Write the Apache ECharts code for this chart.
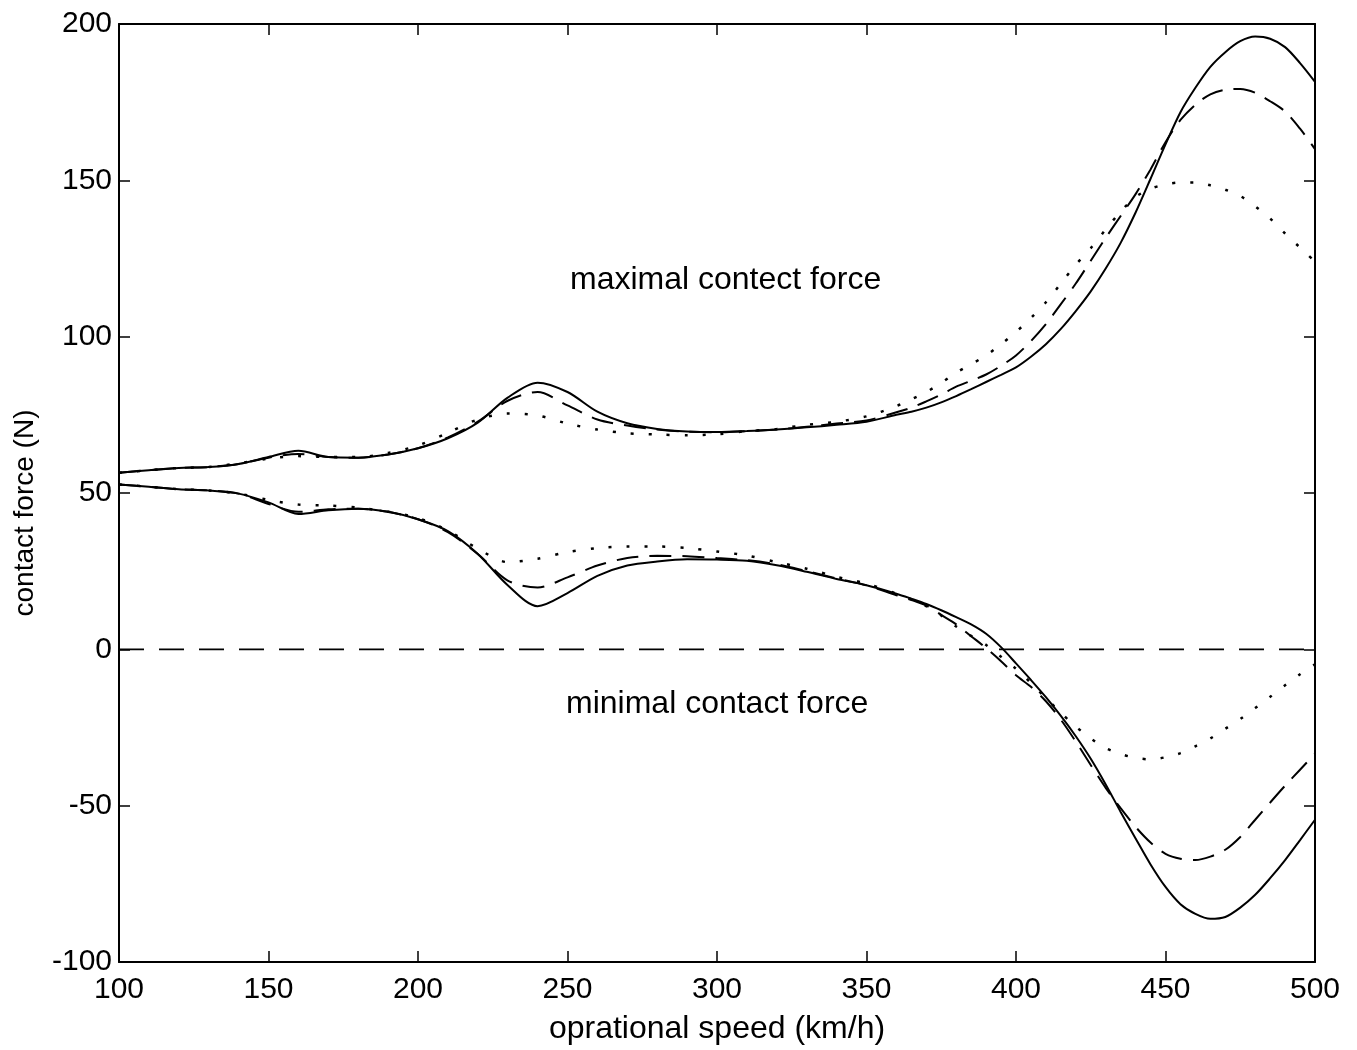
<!DOCTYPE html>
<html>
<head>
<meta charset="utf-8">
<script src="https://cdn.jsdelivr.net/npm/echarts@6/dist/echarts.min.js"></script>
<style>
html,body{margin:0;padding:0;background:#fff;}
#chart{width:1357px;height:1050px;}
</style>
</head>
<body>
<div id="chart"></div>
<script>
// ---- data ----
const speed = [100,110,120,130,140,150,160,170,180,190,200,210,220,230,240,250,260,270,280,290,300,310,320,330,340,350,
               360,365,370,375,380,385,390,395,400,405,410,415,420,425,430,435,440,445,450,455,460,465,470,475,480,485,490,495,500];

const maxSolid = [56.5,57.3,58.0,58.3,59.3,61.5,63.5,61.5,61.3,62.3,64.3,67.5,72.5,80.5,85.3,82.3,76.0,72.3,70.5,69.7,69.5,69.8,70.3,71.0,71.8,72.8,
                  75.0,76.0,77.3,79.0,81.0,83.2,85.5,87.8,90.2,93.6,97.6,102.5,108.2,114.5,121.8,130.0,139.7,150.5,161.5,171.8,179.6,186.3,191.0,194.5,196.0,195.3,192.6,187.5,181.5];
const maxDash  = [56.5,57.3,58.0,58.3,59.3,61.3,62.5,61.5,61.3,62.3,64.3,67.8,72.8,79.5,82.3,78.0,73.5,71.6,70.3,69.6,69.4,69.8,70.3,71.2,72.2,73.2,
                  75.8,77.3,79.3,81.5,84.0,85.9,87.9,90.7,94.0,98.6,104.0,110.4,117.0,124.3,131.6,138.6,145.6,153.5,162.2,169.3,174.2,177.5,179.0,179.2,178.0,175.3,172.0,166.5,160.0];
const maxDot   = [56.5,57.3,58.0,58.3,59.5,61.0,61.8,61.5,61.5,62.8,65.2,69.3,73.5,75.4,74.8,72.2,70.3,69.1,68.7,68.5,68.8,69.8,70.5,71.8,72.8,74.5,
                  77.8,80.0,82.3,85.2,88.5,91.2,94.0,97.6,101.5,106.0,111.0,117.0,123.0,128.3,134.3,140.0,144.7,147.3,148.7,149.3,149.3,148.4,147.0,145.0,141.7,137.8,133.0,128.5,124.0];

const minSolid = [52.7,52.0,51.2,50.8,49.8,47.0,43.3,44.5,45.0,44.0,41.6,37.8,30.5,20.5,13.8,18.0,23.5,26.8,28.1,28.8,28.7,28.3,26.9,24.8,22.5,20.5,
                  17.8,16.2,14.5,12.5,10.3,8.0,5.0,0.7,-4.5,-9.8,-15.3,-21.3,-27.8,-35.0,-43.2,-52.0,-60.5,-68.8,-76.0,-81.5,-84.6,-86.2,-85.6,-82.6,-78.5,-73.2,-67.4,-61.0,-54.5];
const minDash  = [52.7,52.0,51.2,50.8,49.8,46.5,44.0,44.8,45.0,44.0,41.6,37.5,30.5,22.0,19.8,23.0,26.8,29.2,29.9,29.8,29.2,28.5,27.2,25.0,22.7,20.5,
                  17.3,15.8,14.0,11.0,8.0,4.2,0.4,-3.8,-8.3,-12.0,-16.6,-22.5,-29.5,-37.0,-44.3,-50.8,-56.8,-61.8,-65.4,-67.0,-67.4,-66.3,-64.1,-60.0,-54.5,-49.0,-43.6,-38.5,-33.4];
const minDot   = [52.7,52.0,51.2,50.8,49.8,47.8,46.3,46.0,45.3,44.0,42.0,38.0,32.2,27.9,29.0,31.1,32.4,32.9,32.9,32.4,31.3,30.0,27.9,25.8,23.2,21.0,
                  17.8,16.0,13.8,10.8,7.3,4.3,1.4,-2.4,-6.2,-10.8,-15.6,-20.3,-24.7,-28.5,-31.6,-33.5,-34.7,-35.2,-34.5,-33.2,-31.0,-28.5,-25.4,-22.3,-18.8,-15.2,-11.5,-8.0,-4.8];

const zeroX = [100, 500];
const zeroY = [0, 0];

const xTicks = [100,150,200,250,300,350,400,450,500];
const yTicks = [-100,-50,0,50,100,150,200];

const xTitle = 'oprational speed (km/h)';
const yTitle = 'contact force (N)';
const noteMax = 'maximal contect force';
const noteMin = 'minimal contact force';

// ---- build ----
const pair = (xs, ys) => xs.map((x, i) => [x, ys[i]]);
const FONT = '"Liberation Sans", Arial, Helvetica, sans-serif';
const solid = {type:'solid', width:2, color:'#000'};
const dashed = {type:[22,11], width:2, color:'#000'};
const dotted = {type:[3,15], width:2.5, color:'#000'};

function line(name, data, style) {
  return {name, type:'line', data, symbol:'none', smooth:0.3, lineStyle:style, xAxisIndex:0, yAxisIndex:0, z:3};
}

const axisLine = {show:true, onZero:false, lineStyle:{color:'#000', width:2}};
const tick = {show:true, inside:true, length:11, lineStyle:{color:'#000', width:1.5}};
const lbl = {color:'#000', fontSize:30, fontFamily:FONT};

const chart = echarts.init(document.getElementById('chart'), null, {renderer:'canvas'});
chart.setOption({
  animation:false,
  backgroundColor:'#fff',
  grid:{left:119, right:42, top:24, bottom:86, containLabel:false},
  xAxis:[
    {type:'value', min:xTicks[0], max:xTicks[xTicks.length-1], interval:50, position:'bottom',
     axisLine, axisTick:tick, splitLine:{show:false},
     axisLabel:Object.assign({margin:13}, lbl),
     name:xTitle, nameLocation:'middle', nameGap:51,
     nameTextStyle:{color:'#000', fontSize:32, fontFamily:FONT}},
    {type:'value', min:xTicks[0], max:xTicks[xTicks.length-1], interval:50, position:'top',
     axisLine, axisTick:tick, splitLine:{show:false}, axisLabel:{show:false}}
  ],
  yAxis:[
    {type:'value', min:yTicks[0], max:yTicks[yTicks.length-1], interval:50, position:'left',
     axisLine, axisTick:tick, splitLine:{show:false},
     axisLabel:Object.assign({margin:7}, lbl),
     name:yTitle, nameLocation:'middle', nameGap:80, nameRotate:90,
     nameTextStyle:{color:'#000', fontSize:28, fontFamily:FONT, padding:[0,40,0,0]}},
    {type:'value', min:yTicks[0], max:yTicks[yTicks.length-1], interval:50, position:'right',
     axisLine, axisTick:tick, splitLine:{show:false}, axisLabel:{show:false}}
  ],
  series:[
    {name:'zero', type:'line', data:pair(zeroX, zeroY), symbol:'none',
     lineStyle:{type:[25,15], width:1.8, color:'#000'}, z:2},
    line('max solid', pair(speed, maxSolid), solid),
    line('max dashed', pair(speed, maxDash), dashed),
    line('max dotted', pair(speed, maxDot), dotted),
    line('min solid', pair(speed, minSolid), solid),
    line('min dashed', pair(speed, minDash), dashed),
    line('min dotted', pair(speed, minDot), dotted)
  ],
  graphic:[
    {type:'text', left:570, top:264, style:{text:noteMax, fill:'#000', font:'32px ' + FONT}},
    {type:'text', left:566, top:688, style:{text:noteMin, fill:'#000', font:'32px ' + FONT}}
  ]
});
</script>
</body>
</html>
